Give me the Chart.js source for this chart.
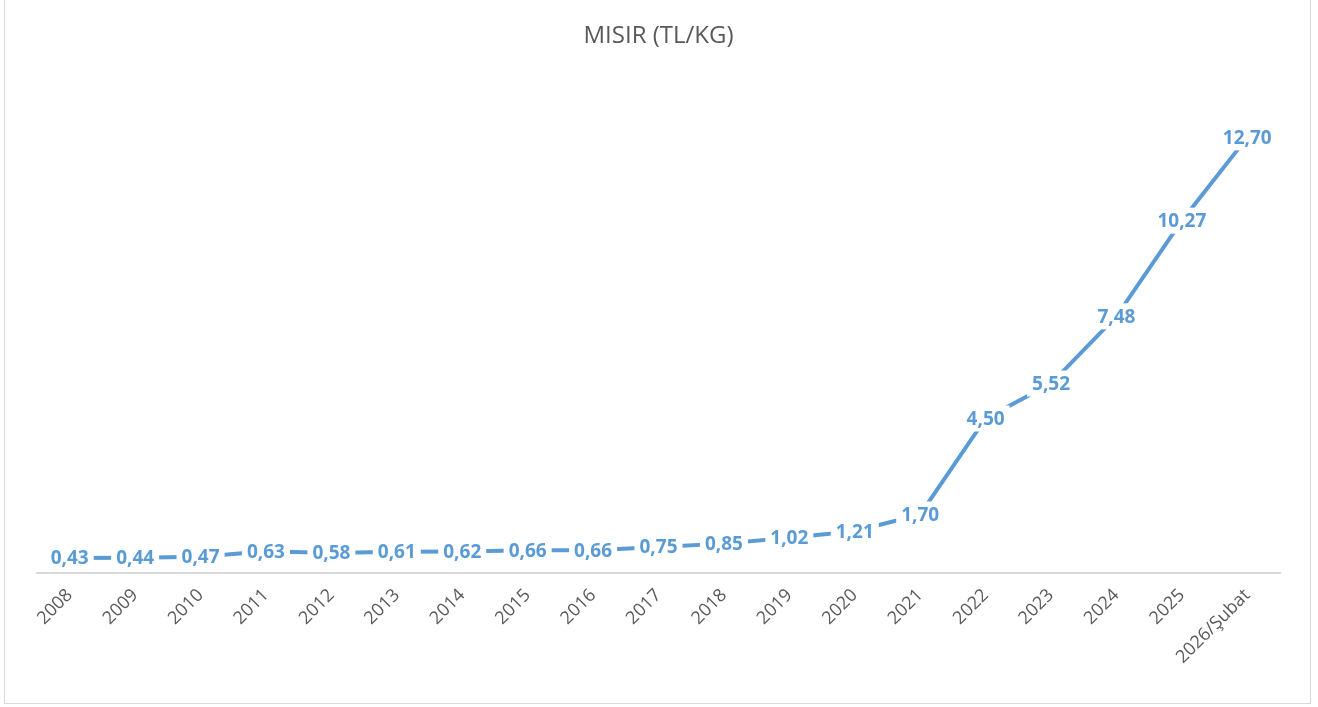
<!DOCTYPE html>
<html>
<head>
<meta charset="utf-8">
<script src="https://cdn.jsdelivr.net/npm/chart.js@4"></script>
<style>
  html, body { margin: 0; padding: 0; background: #fff; }
  .frame { position: absolute; left: 4px; top: -1px; width: 1305px; height: 703px; border: 1px solid #d9d9d9; }
  .wrap { position: absolute; left: 0; top: 0; width: 1318px; height: 707px; }
</style>
</head>
<body>
<div class="frame"></div>
<div class="wrap"><canvas id="chart"></canvas></div>
<script>
// categories and values (TL/kg)
const years = ['2008', '2009', '2010', '2011', '2012', '2013', '2014', '2015', '2016', '2017',
               '2018', '2019', '2020', '2021', '2022', '2023', '2024', '2025', '2026/Şubat'];
const prices = [0.43, 0.44, 0.47, 0.63, 0.58, 0.61, 0.62, 0.66, 0.66, 0.75,
                0.85, 1.02, 1.21, 1.70, 4.50, 5.52, 7.48, 10.27, 12.70];

const blue = '#5b9bd5';
const grey = '#595959';

// Excel-style value labels: centered on the point, white box hides the line
const pointLabels = {
    id: 'pointLabels',
    afterDatasetsDraw(chart) {
        const ctx = chart.ctx;
        const meta = chart.getDatasetMeta(0);
        ctx.save();
        ctx.font = 'bold 19px "Open Sans", sans-serif';
        ctx.textAlign = 'center';
        ctx.textBaseline = 'middle';
        meta.data.forEach((pt, i) => {
            const txt = prices[i].toFixed(2).replace('.', ',');
            const w = ctx.measureText(txt).width;
            ctx.fillStyle = '#fff';
            ctx.fillRect(pt.x - w / 2 - 5, pt.y - 13, w + 10, 26);
            ctx.fillStyle = blue;
            ctx.fillText(txt, pt.x, pt.y + 1);
        });
        ctx.restore();
    }
};

new Chart(document.getElementById('chart'), {
    type: 'line',
    data: {
        labels: years,
        datasets: [{
            data: prices,
            borderColor: blue,
            borderWidth: 4,
            pointRadius: 0,
            tension: 0
        }]
    },
    options: {
        responsive: true,
        maintainAspectRatio: false,
        animation: false,
        layout: { padding: { left: 37, right: 38, top: 0, bottom: 35 } },
        plugins: {
            legend: { display: false },
            tooltip: { enabled: false },
            title: {
                display: true,
                text: 'MISIR (TL/KG)',
                color: grey,
                font: { family: '"Open Sans", sans-serif', size: 24, weight: 'normal' },
                padding: { top: 22, bottom: 42 }
            }
        },
        scales: {
            x: {
                offset: true,
                grid: { display: false },
                border: { color: '#d9d9d9', width: 2 },
                ticks: {
                    color: grey,
                    font: { family: '"Open Sans", sans-serif', size: 18 },
                    minRotation: 45,
                    maxRotation: 45,
                    padding: 4
                }
            },
            y: {
                display: false,
                min: 0,
                max: 14
            }
        }
    },
    plugins: [pointLabels]
});
</script>
</body>
</html>
